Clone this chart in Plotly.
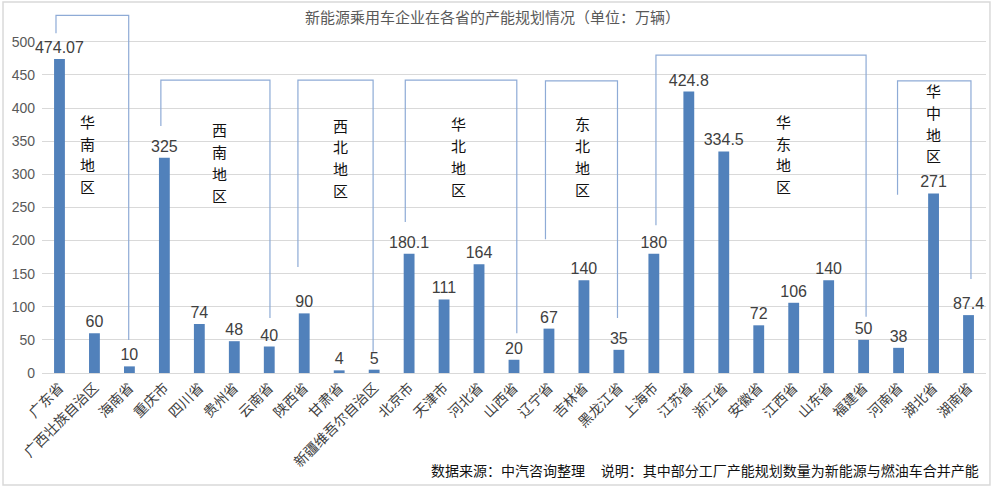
import plotly.graph_objects as go

# ---- data ----
provinces = ["广东省", "广西壮族自治区", "海南省", "重庆市", "四川省", "贵州省", "云南省",
             "陕西省", "甘肃省", "新疆维吾尔自治区", "北京市", "天津市", "河北省", "山西省",
             "辽宁省", "吉林省", "黑龙江省", "上海市", "江苏省", "浙江省", "安徽省", "江西省",
             "山东省", "福建省", "河南省", "湖北省", "湖南省"]
capacity = [474.07, 60, 10, 325, 74, 48, 40, 90, 4, 5, 180.1, 111, 164, 20, 67, 140, 35,
            180, 424.8, 334.5, 72, 106, 140, 50, 38, 271, 87.4]
capacity_text = ["474.07", "60", "10", "325", "74", "48", "40", "90", "4", "5", "180.1", "111",
                 "164", "20", "67", "140", "35", "180", "424.8", "334.5", "72", "106", "140",
                 "50", "38", "271", "87.4"]
regions = ["华南地区", "西南地区", "西北地区", "华北地区", "东北地区", "华东地区", "华中地区"]
y_ticks = [0, 50, 100, 150, 200, 250, 300, 350, 400, 450, 500]

title_text = "新能源乘用车企业在各省的产能规划情况（单位：万辆）"
footer_text = "数据来源：中汽咨询整理     说明：其中部分工厂产能规划数量为新能源与燃油车合并产能"

# ---- bracket geometry (styling/annotation placement) ----
# (x_left, x_right, top, left_bottom, right_bottom)
brackets = [(-0.1, 1.98, 540, 513, 50),
            (2.9, 6.02, 442, 373, 83),
            (6.82, 8.97, 442, 160, 32),
            (9.89, 13.08, 442, 228, 60),
            (13.9, 15.96, 441, 202, 83),
            (17.06, 23.07, 480, 223, 85),
            (23.97, 26.07, 441, 269, 142)]
# (label x, top char y)
label_pos = [(0.79, 380), (4.59, 367), (8.05, 374), (11.4, 376),
             (14.97, 376), (20.7, 380), (25.01, 426)]
char_step = 32.8

FONT = "Liberation Sans, Noto Sans CJK SC, sans-serif"
CJK = "Noto Sans CJK SC, sans-serif"

fig = go.Figure()
fig.add_trace(go.Bar(
    x=list(range(len(provinces))), y=capacity,
    text=capacity_text, textposition="outside", cliponaxis=False,
    constraintext="none",
    textfont=dict(family=FONT, size=16, color="#404040"),
    outsidetextfont=dict(family=FONT, size=16, color="#404040"),
    marker=dict(color="#5181bb", line=dict(width=0)),
    hoverinfo="x+y",
))

shapes = []
for xl, xr, top, lb, rb in brackets:
    shapes.append(dict(type="path", xref="x", yref="y",
                       path=f"M {xl},{lb} L {xl},{top} L {xr},{top} L {xr},{rb}",
                       line=dict(color="#8eabd6", width=1.2)))
# outer frame
shapes.append(dict(type="rect", xref="paper", yref="paper",
                   x0=-0.0413, x1=1.0042, y0=-0.3085, y1=1.022,
                   line=dict(color="#d9d9d9", width=1.5), layer="below"))

annotations = []
for name, (lx, ty) in zip(regions, label_pos):
    for k, ch in enumerate(name):
        annotations.append(dict(x=lx, y=ty - k * char_step, xref="x", yref="y",
                                text=ch, showarrow=False,
                                font=dict(family=CJK, size=15, color="#111111")))
annotations.append(dict(x=0.477, y=0.981, xref="paper", yref="paper", text=title_text,
                        showarrow=False, xanchor="center", yanchor="middle",
                        font=dict(family=CJK, size=15, color="#595959")))
annotations.append(dict(x=0.995, y=-0.267, xref="paper", yref="paper", text=footer_text,
                        showarrow=False, xanchor="right", yanchor="middle",
                        font=dict(family=CJK, size=14, color="#111111")))

fig.update_layout(
    width=1000, height=487,
    margin=dict(l=42, r=14, t=10, b=114),
    paper_bgcolor="white", plot_bgcolor="white",
    bargap=0.69, showlegend=False,
    shapes=shapes, annotations=annotations,
    xaxis=dict(range=[-0.5, 26.5], tickmode="array",
               tickvals=list(range(len(provinces))), ticktext=provinces,
               tickangle=-45, tickfont=dict(family=CJK, size=14, color="#404040"),
               showline=True, linecolor="#d9d9d9", linewidth=1, showgrid=False,
               ticks="", zeroline=False),
    yaxis=dict(range=[0, 548], tickmode="array", tickvals=y_ticks,
               tickfont=dict(family=FONT, size=14, color="#595959"),
               showgrid=True, gridcolor="#d9d9d9", gridwidth=1,
               zeroline=False, showline=False, ticks="", ticklabelstandoff=6),
)

fig.write_html("out.html")
